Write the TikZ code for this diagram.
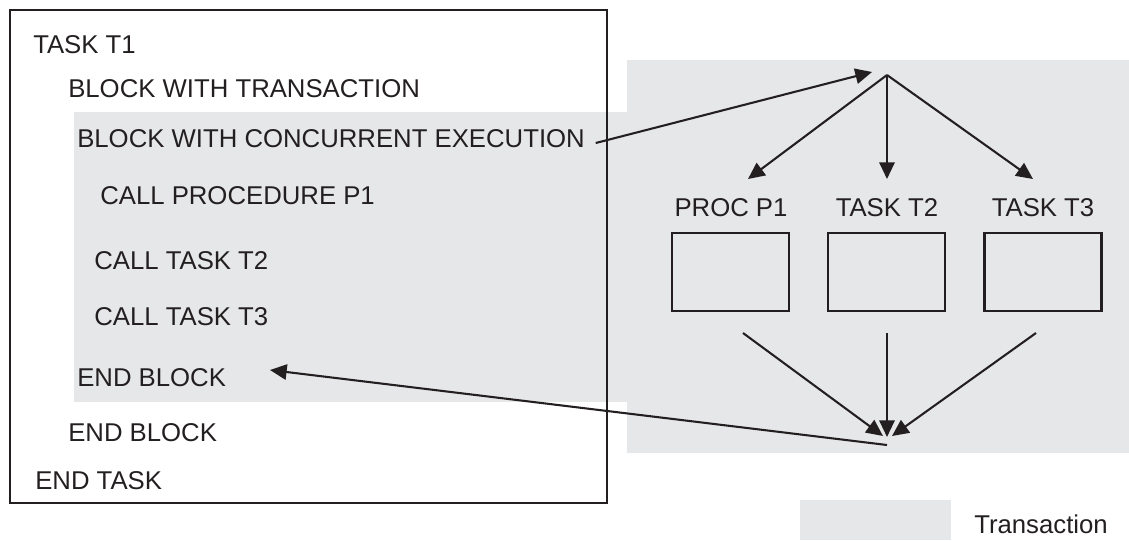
\documentclass[tikz,border=0pt]{standalone}
\usepackage{fontspec}
\setmainfont{Liberation Sans}
\usetikzlibrary{arrows.meta}
\definecolor{txgray}{RGB}{230,231,232}
\definecolor{ink}{RGB}{35,31,32}
\tikzset{
  x=0.75pt, y=-0.75pt,
  code/.style={anchor=base west, inner sep=0pt, text=ink, font=\fontsize{19.3pt}{23pt}\selectfont},
  lbl/.style={anchor=base, inner sep=0pt, text=ink, font=\fontsize{19.3pt}{23pt}\selectfont},
  procbox/.style={draw=ink, line width=1.7pt, minimum width=117*0.75pt, minimum height=78*0.75pt, inner sep=0pt},
  conn/.style={draw=ink, line width=1.55pt},
  arr/.style={conn, -{Triangle[length=12.5pt,width=11.5pt]}},
}
\begin{document}
\begin{tikzpicture}
\useasboundingbox (0,0) rectangle (1129,540);
% transaction shading
\fill[txgray] (627,60) rectangle (1129,453);
\fill[txgray] (74,112) rectangle (627,402);
\fill[txgray] (800,500) rectangle (951,540);
% outer task frame
\draw[ink, line width=1.7pt] (10,10) rectangle (607,503);
% code lines
\node[code] (t1) at (33,53) {TASK T1};
\node[code] (bwt) at (68,97) {BLOCK WITH TRANSACTION};
\node[code] (bwc) at (77,147) {BLOCK WITH CONCURRENT EXECUTION};
\node[code] (cp1) at (100,204) {CALL PROCEDURE P1};
\node[code] (ct2) at (94,269) {CALL TASK T2};
\node[code] (ct3) at (94,325) {CALL TASK T3};
\node[code] (eb1) at (77,386) {END BLOCK};
\node[code] (eb2) at (68,441) {END BLOCK};
\node[code] (et) at (35,489) {END TASK};
% right side
\node[lbl] (lp1) at (731,216) {PROC P1};
\node[lbl] (lt2) at (887,216) {TASK T2};
\node[lbl] (lt3) at (1043,216) {TASK T3};
\node[procbox] (bp1) at (730.5,272) {};
\node[procbox] (bt2) at (886.5,272) {};
\node[procbox] (bt3) at (1043,272) {};
\coordinate (fork) at (887,75);
\coordinate (join) at (887,445);
\coordinate (forkin) at (872,72);
\coordinate (ebend) at (270,370);
% connectors
\draw[arr] ([xshift=8pt,yshift=3pt]bwc.base east) -- (forkin);
\draw[arr] (fork) -- (748,179);
\draw[arr] (fork) -- (887,179);
\draw[arr] (fork) -- (1033,179);
\draw[arr] (743,333) -- (883,436);
\draw[arr] (887,333) -- (887,437);
\draw[arr] (1036,333) -- (892,436);
\draw[arr] (join) -- (ebend);
% legend
\node[code] (leg) at (974,533) {Transaction};
\end{tikzpicture}
\end{document}
